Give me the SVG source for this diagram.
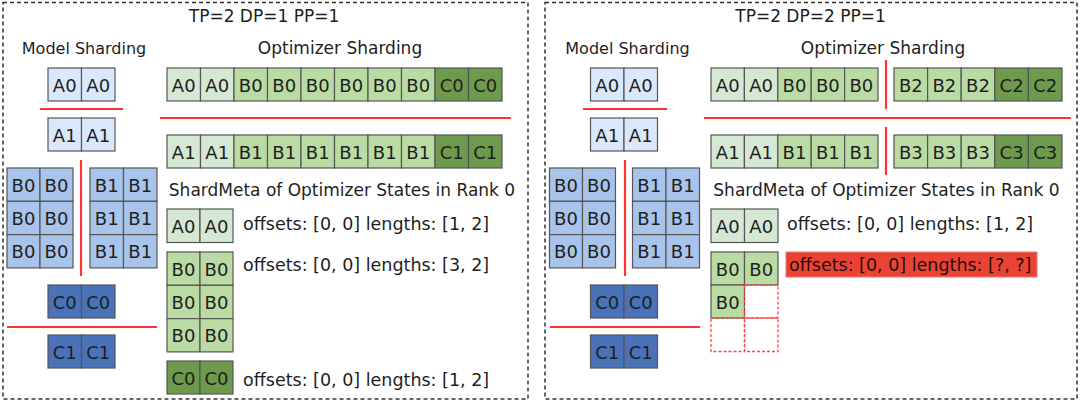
<svg xmlns="http://www.w3.org/2000/svg" width="1080" height="402" viewBox="0 0 1080 402">
<style>
text{font-family:"DejaVu Sans",Verdana,sans-serif;fill:#1e1e1e}
.t{font-size:17px;text-anchor:middle;dominant-baseline:central}
.ms{font-size:16px;text-anchor:middle;dominant-baseline:central}
.c{font-size:18px;text-anchor:middle;dominant-baseline:central}
.m{font-size:17.5px;dominant-baseline:central}
.panel{fill:#fff;stroke:#333;stroke-width:1.5;stroke-dasharray:4 3}
.cell rect{stroke:#555;stroke-width:1.2}
.ba{fill:#dae8fc}.bb{fill:#a9c4eb}.bc{fill:#4a72b8}
.ga{fill:#d5e8d4}.gb{fill:#badba4}.gc{fill:#6d9a4c}
.red{stroke:#ff3333;stroke-width:2.2;fill:none}
.cell rect.dash{fill:none;stroke:#ff4444;stroke-width:1.3;stroke-dasharray:3 2}
</style>

<rect class="panel" x="3" y="2.5" width="525" height="396.5"/>
<rect class="panel" x="545" y="2.5" width="532" height="396.5"/>

<!-- Left panel labels -->
<g id="labels-left">
<text class="t" x="264" y="16">TP=2 DP=1 PP=1</text>
<text class="ms" x="84" y="48">Model Sharding</text>
<text class="t" x="340" y="48">Optimizer Sharding</text>
<text class="t" x="342" y="190">ShardMeta of Optimizer States in Rank 0</text>
</g>

<!-- Left model sharding -->
<g id="L-model-A0" class="cell">
<rect class="ba" x="48" y="68" width="33.5" height="33"/><rect class="ba" x="81.5" y="68" width="33.5" height="33"/>
<text class="c" x="64.75" y="85">A0</text><text class="c" x="98.25" y="85">A0</text>
</g>
<g id="L-model-A1" class="cell">
<rect class="ba" x="48" y="118" width="33.5" height="33"/><rect class="ba" x="81.5" y="118" width="33.5" height="33"/>
<text class="c" x="64.75" y="135">A1</text><text class="c" x="98.25" y="135">A1</text>
</g>
<g id="L-model-B0" class="cell">
<rect class="bb" x="7" y="168" width="33" height="33.3"/><rect class="bb" x="40" y="168" width="33" height="33.3"/>
<rect class="bb" x="7" y="201.3" width="33" height="33.3"/><rect class="bb" x="40" y="201.3" width="33" height="33.3"/>
<rect class="bb" x="7" y="234.6" width="33" height="33.3"/><rect class="bb" x="40" y="234.6" width="33" height="33.3"/>
<text class="c" x="23.5" y="185">B0</text><text class="c" x="56.5" y="185">B0</text>
<text class="c" x="23.5" y="218">B0</text><text class="c" x="56.5" y="218">B0</text>
<text class="c" x="23.5" y="251.5">B0</text><text class="c" x="56.5" y="251.5">B0</text>
</g>
<g id="L-model-B1" class="cell">
<rect class="bb" x="90" y="168" width="33.5" height="33.3"/><rect class="bb" x="123.5" y="168" width="33.5" height="33.3"/>
<rect class="bb" x="90" y="201.3" width="33.5" height="33.3"/><rect class="bb" x="123.5" y="201.3" width="33.5" height="33.3"/>
<rect class="bb" x="90" y="234.6" width="33.5" height="33.3"/><rect class="bb" x="123.5" y="234.6" width="33.5" height="33.3"/>
<text class="c" x="106.75" y="185">B1</text><text class="c" x="140.25" y="185">B1</text>
<text class="c" x="106.75" y="218">B1</text><text class="c" x="140.25" y="218">B1</text>
<text class="c" x="106.75" y="251.5">B1</text><text class="c" x="140.25" y="251.5">B1</text>
</g>
<g id="L-model-C0" class="cell">
<rect class="bc" x="48" y="285" width="33.5" height="33"/><rect class="bc" x="81.5" y="285" width="33.5" height="33"/>
<text class="c" x="64.75" y="302">C0</text><text class="c" x="98.25" y="302">C0</text>
</g>
<g id="L-model-C1" class="cell">
<rect class="bc" x="48" y="335" width="33.5" height="33"/><rect class="bc" x="81.5" y="335" width="33.5" height="33"/>
<text class="c" x="64.75" y="352">C1</text><text class="c" x="98.25" y="352">C1</text>
</g>

<!-- Left optimizer rows -->
<g id="L-opt-row0" class="cell">
<rect class="ga" x="167" y="68" width="33.5" height="33"/><rect class="ga" x="200.5" y="68" width="33.5" height="33"/>
<rect class="gb" x="234" y="68" width="33.5" height="33"/><rect class="gb" x="267.5" y="68" width="33.5" height="33"/>
<rect class="gb" x="301" y="68" width="33.5" height="33"/><rect class="gb" x="334.5" y="68" width="33.5" height="33"/>
<rect class="gb" x="368" y="68" width="33.5" height="33"/><rect class="gb" x="401.5" y="68" width="33.5" height="33"/>
<rect class="gc" x="435" y="68" width="33.5" height="33"/><rect class="gc" x="468.5" y="68" width="33.5" height="33"/>
<text class="c" x="183.75" y="85">A0</text><text class="c" x="217.25" y="85">A0</text>
<text class="c" x="250.75" y="85">B0</text><text class="c" x="284.25" y="85">B0</text>
<text class="c" x="317.75" y="85">B0</text><text class="c" x="351.25" y="85">B0</text>
<text class="c" x="384.75" y="85">B0</text><text class="c" x="418.25" y="85">B0</text>
<text class="c" x="451.75" y="85">C0</text><text class="c" x="485.25" y="85">C0</text>
</g>
<g id="L-opt-row1" class="cell">
<rect class="ga" x="167" y="135" width="33.5" height="33"/><rect class="ga" x="200.5" y="135" width="33.5" height="33"/>
<rect class="gb" x="234" y="135" width="33.5" height="33"/><rect class="gb" x="267.5" y="135" width="33.5" height="33"/>
<rect class="gb" x="301" y="135" width="33.5" height="33"/><rect class="gb" x="334.5" y="135" width="33.5" height="33"/>
<rect class="gb" x="368" y="135" width="33.5" height="33"/><rect class="gb" x="401.5" y="135" width="33.5" height="33"/>
<rect class="gc" x="435" y="135" width="33.5" height="33"/><rect class="gc" x="468.5" y="135" width="33.5" height="33"/>
<text class="c" x="183.75" y="152">A1</text><text class="c" x="217.25" y="152">A1</text>
<text class="c" x="250.75" y="152">B1</text><text class="c" x="284.25" y="152">B1</text>
<text class="c" x="317.75" y="152">B1</text><text class="c" x="351.25" y="152">B1</text>
<text class="c" x="384.75" y="152">B1</text><text class="c" x="418.25" y="152">B1</text>
<text class="c" x="451.75" y="152">C1</text><text class="c" x="485.25" y="152">C1</text>
</g>

<!-- Left shard meta -->
<g id="L-meta-A0" class="cell">
<rect class="ga" x="167" y="209" width="33" height="33.5"/><rect class="ga" x="200" y="209" width="33" height="33.5"/>
<text class="c" x="183.5" y="226">A0</text><text class="c" x="216.5" y="226">A0</text>
<text class="m" x="243" y="224">offsets: [0, 0] lengths: [1, 2]</text>
</g>
<g id="L-meta-B0" class="cell">
<rect class="gb" x="167" y="252" width="33" height="33.3"/><rect class="gb" x="200" y="252" width="33" height="33.3"/>
<rect class="gb" x="167" y="285.3" width="33" height="33.3"/><rect class="gb" x="200" y="285.3" width="33" height="33.3"/>
<rect class="gb" x="167" y="318.6" width="33" height="33.3"/><rect class="gb" x="200" y="318.6" width="33" height="33.3"/>
<text class="c" x="183.5" y="269">B0</text><text class="c" x="216.5" y="269">B0</text>
<text class="c" x="183.5" y="302">B0</text><text class="c" x="216.5" y="302">B0</text>
<text class="c" x="183.5" y="335.5">B0</text><text class="c" x="216.5" y="335.5">B0</text>
<text class="m" x="243" y="265">offsets: [0, 0] lengths: [3, 2]</text>
</g>
<g id="L-meta-C0" class="cell">
<rect class="gc" x="167" y="361" width="33" height="33"/><rect class="gc" x="200" y="361" width="33" height="33"/>
<text class="c" x="183.5" y="378">C0</text><text class="c" x="216.5" y="378">C0</text>
<text class="m" x="243" y="380">offsets: [0, 0] lengths: [1, 2]</text>
</g>

<!-- Right panel labels -->
<g id="labels-right">
<text class="t" x="810.5" y="16">TP=2 DP=2 PP=1</text>
<text class="ms" x="627.5" y="48">Model Sharding</text>
<text class="t" x="883" y="48">Optimizer Sharding</text>
<text class="t" x="886.5" y="190">ShardMeta of Optimizer States in Rank 0</text>
</g>

<!-- Right model sharding -->
<g id="R-model" transform="translate(542.5 0)">
<g id="R-model-A0" class="cell">
<rect class="ba" x="48" y="68" width="33.5" height="33"/><rect class="ba" x="81.5" y="68" width="33.5" height="33"/>
<text class="c" x="64.75" y="85">A0</text><text class="c" x="98.25" y="85">A0</text>
</g>
<g id="R-model-A1" class="cell">
<rect class="ba" x="48" y="118" width="33.5" height="33"/><rect class="ba" x="81.5" y="118" width="33.5" height="33"/>
<text class="c" x="64.75" y="135">A1</text><text class="c" x="98.25" y="135">A1</text>
</g>
<g id="R-model-B0" class="cell">
<rect class="bb" x="7" y="168" width="33" height="33.3"/><rect class="bb" x="40" y="168" width="33" height="33.3"/>
<rect class="bb" x="7" y="201.3" width="33" height="33.3"/><rect class="bb" x="40" y="201.3" width="33" height="33.3"/>
<rect class="bb" x="7" y="234.6" width="33" height="33.3"/><rect class="bb" x="40" y="234.6" width="33" height="33.3"/>
<text class="c" x="23.5" y="185">B0</text><text class="c" x="56.5" y="185">B0</text>
<text class="c" x="23.5" y="218">B0</text><text class="c" x="56.5" y="218">B0</text>
<text class="c" x="23.5" y="251.5">B0</text><text class="c" x="56.5" y="251.5">B0</text>
</g>
<g id="R-model-B1" class="cell">
<rect class="bb" x="90" y="168" width="33.5" height="33.3"/><rect class="bb" x="123.5" y="168" width="33.5" height="33.3"/>
<rect class="bb" x="90" y="201.3" width="33.5" height="33.3"/><rect class="bb" x="123.5" y="201.3" width="33.5" height="33.3"/>
<rect class="bb" x="90" y="234.6" width="33.5" height="33.3"/><rect class="bb" x="123.5" y="234.6" width="33.5" height="33.3"/>
<text class="c" x="106.75" y="185">B1</text><text class="c" x="140.25" y="185">B1</text>
<text class="c" x="106.75" y="218">B1</text><text class="c" x="140.25" y="218">B1</text>
<text class="c" x="106.75" y="251.5">B1</text><text class="c" x="140.25" y="251.5">B1</text>
</g>
<g id="R-model-C0" class="cell">
<rect class="bc" x="48" y="285" width="33.5" height="33"/><rect class="bc" x="81.5" y="285" width="33.5" height="33"/>
<text class="c" x="64.75" y="302">C0</text><text class="c" x="98.25" y="302">C0</text>
</g>
<g id="R-model-C1" class="cell">
<rect class="bc" x="48" y="335" width="33.5" height="33"/><rect class="bc" x="81.5" y="335" width="33.5" height="33"/>
<text class="c" x="64.75" y="352">C1</text><text class="c" x="98.25" y="352">C1</text>
</g>
</g>

<!-- Right optimizer rows -->
<g id="R-opt-row0a" class="cell">
<rect class="ga" x="711" y="68" width="33.4" height="33"/><rect class="ga" x="744.4" y="68" width="33.4" height="33"/>
<rect class="gb" x="777.8" y="68" width="33.4" height="33"/><rect class="gb" x="811.2" y="68" width="33.4" height="33"/>
<rect class="gb" x="844.6" y="68" width="33.4" height="33"/>
<text class="c" x="727.7" y="85">A0</text><text class="c" x="761.1" y="85">A0</text>
<text class="c" x="794.5" y="85">B0</text><text class="c" x="827.9" y="85">B0</text><text class="c" x="861.3" y="85">B0</text>
</g>
<g id="R-opt-row0b" class="cell">
<rect class="gb" x="894" y="68" width="33.6" height="33"/><rect class="gb" x="927.6" y="68" width="33.6" height="33"/>
<rect class="gb" x="961.2" y="68" width="33.6" height="33"/><rect class="gc" x="994.8" y="68" width="33.6" height="33"/>
<rect class="gc" x="1028.4" y="68" width="33.6" height="33"/>
<text class="c" x="910.8" y="85">B2</text><text class="c" x="944.4" y="85">B2</text><text class="c" x="978" y="85">B2</text>
<text class="c" x="1011.6" y="85">C2</text><text class="c" x="1045.2" y="85">C2</text>
</g>
<g id="R-opt-row1a" class="cell">
<rect class="ga" x="711" y="135" width="33.4" height="33"/><rect class="ga" x="744.4" y="135" width="33.4" height="33"/>
<rect class="gb" x="777.8" y="135" width="33.4" height="33"/><rect class="gb" x="811.2" y="135" width="33.4" height="33"/>
<rect class="gb" x="844.6" y="135" width="33.4" height="33"/>
<text class="c" x="727.7" y="152">A1</text><text class="c" x="761.1" y="152">A1</text>
<text class="c" x="794.5" y="152">B1</text><text class="c" x="827.9" y="152">B1</text><text class="c" x="861.3" y="152">B1</text>
</g>
<g id="R-opt-row1b" class="cell">
<rect class="gb" x="894" y="135" width="33.6" height="33"/><rect class="gb" x="927.6" y="135" width="33.6" height="33"/>
<rect class="gb" x="961.2" y="135" width="33.6" height="33"/><rect class="gc" x="994.8" y="135" width="33.6" height="33"/>
<rect class="gc" x="1028.4" y="135" width="33.6" height="33"/>
<text class="c" x="910.8" y="152">B3</text><text class="c" x="944.4" y="152">B3</text><text class="c" x="978" y="152">B3</text>
<text class="c" x="1011.6" y="152">C3</text><text class="c" x="1045.2" y="152">C3</text>
</g>

<!-- Right shard meta -->
<g id="R-meta-A0" class="cell">
<rect class="ga" x="711" y="209" width="33.5" height="33.5"/><rect class="ga" x="744.5" y="209" width="33.5" height="33.5"/>
<text class="c" x="727.75" y="226">A0</text><text class="c" x="761.25" y="226">A0</text>
<text class="m" x="787" y="224">offsets: [0, 0] lengths: [1, 2]</text>
</g>
<g id="R-meta-B0" class="cell">
<rect class="gb" x="711" y="252" width="33.5" height="33"/><rect class="gb" x="744.5" y="252" width="33.5" height="33"/>
<rect class="gb" x="711" y="285" width="33.5" height="33"/>
<text class="c" x="727.75" y="269">B0</text><text class="c" x="761.25" y="269">B0</text>
<text class="c" x="727.75" y="302">B0</text>
<rect class="dash" x="744.5" y="285" width="33.5" height="33"/>
<rect class="dash" x="711" y="318" width="33.5" height="33.5"/>
<rect class="dash" x="744.5" y="318" width="33.5" height="33.5"/>
</g>
<g id="R-meta-warning">
<rect x="786" y="252" width="251" height="25" fill="#ea4335" stroke="#f07a70" stroke-width="1"/>
<text class="m" x="789" y="265" style="fill:#2a0c0a">offsets: [0, 0] lengths: [?, ?]</text>
</g>

<!-- Connectors: red partition lines -->
<g id="connectors" class="red">
<line x1="40" y1="109" x2="123" y2="109"/>
<line x1="81" y1="160" x2="81" y2="276"/>
<line x1="7" y1="327" x2="157" y2="327"/>
<line x1="160" y1="118" x2="511" y2="118"/>
<line x1="583" y1="109" x2="667" y2="109"/>
<line x1="625" y1="160" x2="625" y2="276"/>
<line x1="550" y1="327" x2="700" y2="327"/>
<line x1="704" y1="118" x2="1071" y2="118"/>
<line x1="886" y1="60" x2="886" y2="109"/>
<line x1="886" y1="127" x2="886" y2="175"/>
</g>
</svg>
